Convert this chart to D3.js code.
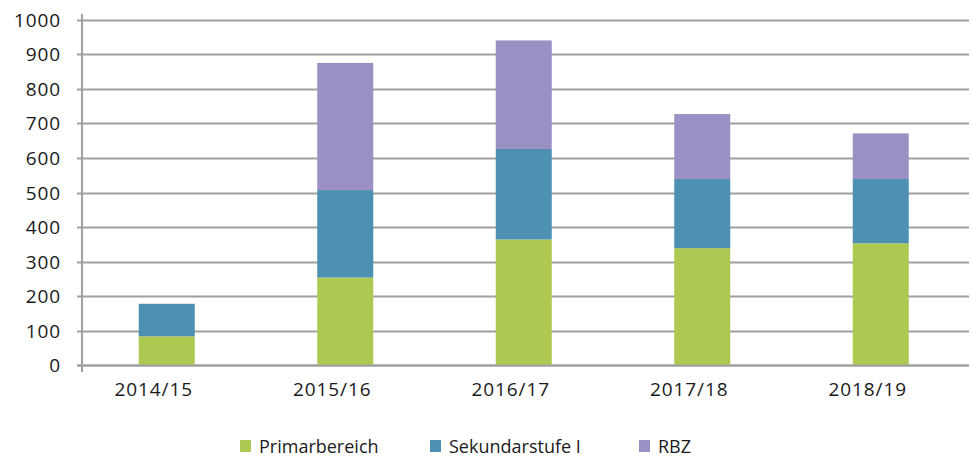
<!DOCTYPE html>
<html>
<head>
<meta charset="utf-8">
<script src="https://cdn.jsdelivr.net/npm/d3@7"></script>
<style>
  body { margin: 0; background: #fff; }
  text { font-family: "Open Sans", sans-serif; fill: #1a1a1a; }
</style>
</head>
<body>
<div id="chart"></div>
<script>
var categories = ["2014/15", "2015/16", "2016/17", "2017/18", "2018/19"];
var primar = [84, 254, 364, 339, 353];
var sekundar = [94, 253, 262, 200, 186];
var rbz = [0, 368, 314, 188, 132];
var seriesNames = ["Primarbereich", "Sekundarstufe I", "RBZ"];
var colors = ["#adc951", "#4e8fb4", "#9b90c4"];
var yTicks = [0, 100, 200, 300, 400, 500, 600, 700, 800, 900, 1000];

var width = 971, height = 458;

var svg = d3.select("#chart").append("svg")
  .attr("width", width)
  .attr("height", height);

var x = d3.scaleBand().domain(categories).range([77.5, 970]);
var y = d3.scaleLinear().domain([0, 1000]).range([365.3, 19.7]);

var rows = categories.map(function(c, i) {
  return { cat: c, "Primarbereich": primar[i], "Sekundarstufe I": sekundar[i], "RBZ": rbz[i] };
});
var stacked = d3.stack().keys(seriesNames)(rows);

// gridlines (with little tick stubs left of the axis)
svg.append("g").selectAll("line")
  .data(yTicks)
  .enter().append("line")
  .attr("x1", 77).attr("x2", 969)
  .attr("y1", function(d) { return Math.round(y(d)) + 0.5; })
  .attr("y2", function(d) { return Math.round(y(d)) + 0.5; })
  .attr("stroke", "#a0a0a0")
  .attr("stroke-width", 2);

// bars
var barW = 56;
svg.append("g").selectAll("g")
  .data(stacked)
  .enter().append("g")
  .attr("fill", function(d, i) { return colors[i]; })
  .selectAll("rect")
  .data(function(d) { return d; })
  .enter().append("rect")
  .attr("x", function(d) { return x(d.data.cat) + x.bandwidth() / 2 - barW / 2; })
  .attr("width", barW)
  .attr("y", function(d) { return y(d[1]); })
  .attr("height", function(d) { return Math.max(0, y(d[0]) - y(d[1])); });

// y axis line
svg.append("line")
  .attr("x1", 82).attr("x2", 82)
  .attr("y1", 14).attr("y2", 372)
  .attr("stroke", "#a0a0a0")
  .attr("stroke-width", 2);

// x axis line
svg.append("line")
  .attr("x1", 77).attr("x2", 969)
  .attr("y1", Math.round(y(0)) + 0.5).attr("y2", Math.round(y(0)) + 0.5)
  .attr("stroke", "#a0a0a0")
  .attr("stroke-width", 2);

// y labels
svg.append("g").selectAll("text")
  .data(yTicks)
  .enter().append("text")
  .attr("x", 61)
  .attr("y", function(d) { return y(d) + 7; })
  .attr("text-anchor", "end")
  .style("font-size", "19px")
  .style("letter-spacing", "0.9px")
  .text(function(d) { return d; });

// x labels
svg.append("g").selectAll("text")
  .data(categories)
  .enter().append("text")
  .attr("x", function(d) { return x(d) + x.bandwidth() / 2 - 13; })
  .attr("y", 396)
  .attr("text-anchor", "middle")
  .style("font-size", "19px")
  .style("letter-spacing", "0.9px")
  .text(function(d) { return d; });

// legend
var legendX = [240, 430, 639];
var legend = svg.append("g").selectAll("g")
  .data(seriesNames)
  .enter().append("g")
  .attr("transform", function(d, i) { return "translate(" + legendX[i] + ",440)"; });
legend.append("rect")
  .attr("width", 11).attr("height", 12)
  .attr("fill", function(d, i) { return colors[i]; });
legend.append("text")
  .attr("x", 19).attr("y", 12.5)
  .style("font-size", "18px")
  .text(function(d) { return d; });
</script>
</body>
</html>
